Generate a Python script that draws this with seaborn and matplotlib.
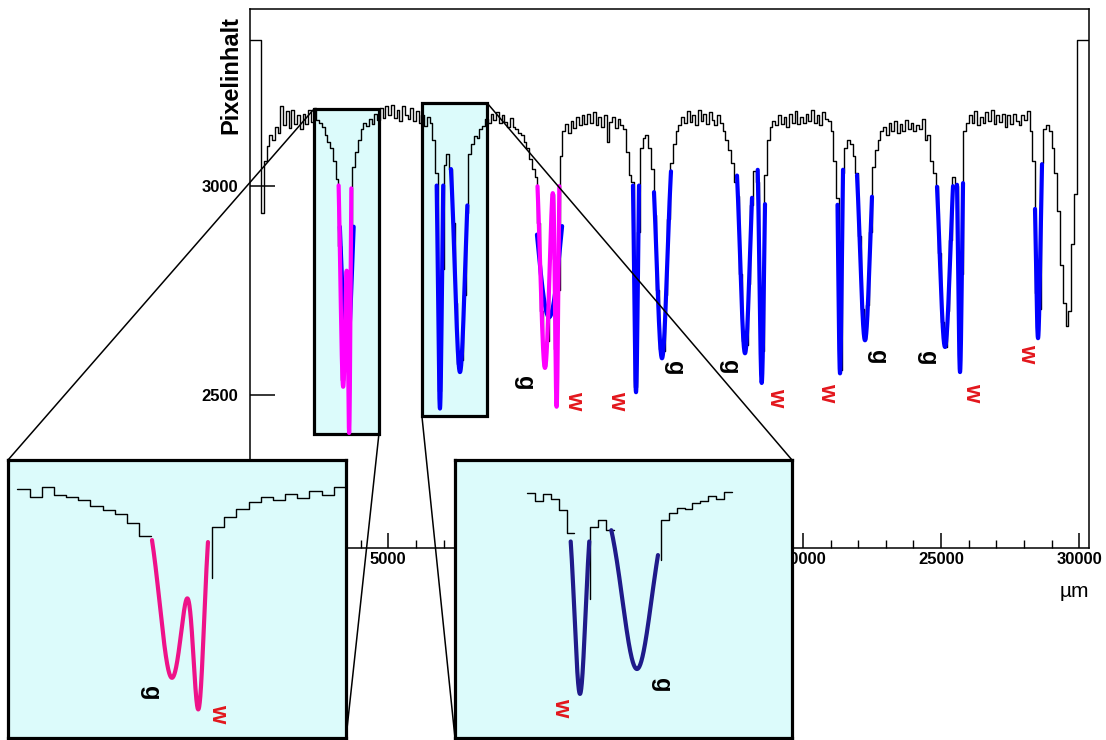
import numpy as np
import matplotlib
matplotlib.use("Agg")
import matplotlib.pyplot as plt
from matplotlib.patches import Rectangle, ConnectionPatch
import seaborn as sns

sns.set_style("white")
plt.rcParams["font.family"] = ["Liberation Sans", "DejaVu Sans"]
for key in ("text.color", "axes.labelcolor", "xtick.color", "ytick.color", "axes.edgecolor"):
    plt.rcParams[key] = "black"

# ---------------------------------------------------------------- data
BIN_UM = 100  # bin width of the scan profile

# pixel content per 100 um bin, first bin starts at 0 um
pixel_content = [
    3348, 3348, 3348, 3348, 2935, 3060, 3095, 3120, 3110, 3140,   # 0
    3125, 3190, 3145, 3178, 3138, 3182, 3148, 3170, 3135, 3172,   # 1000
    3148, 3180, 3152, 3185, 3158, 3150, 3140, 3120, 3105, 3090,   # 2000
    3060, 3015, 2855, 2535, 2690, 2570, 2870, 3045, 3080, 3110,   # 3000
    3135, 3150, 3142, 3160, 3148, 3172, 3158, 3185, 3162, 3190,   # 4000
    3168, 3192, 3162, 3182, 3155, 3190, 3170, 3160, 3185, 3155,   # 5000
    3178, 3150, 3170, 3142, 3165, 3150, 3110, 3030, 2510, 2800,   # 6000
    3050, 3075, 3040, 2910, 2720, 2575, 2585, 2740, 2935, 3075,   # 7000
    3100, 3118, 3115, 3135, 3142, 3160, 3150, 3172, 3158, 3175,   # 8000
    3150, 3170, 3152, 3140, 3162, 3140, 3135, 3125, 3120, 3105,   # 9000
    3090, 3065, 3040, 3020, 2910, 2700, 2570, 2630, 2825, 2980,   # 10000
    2610, 2750, 3070, 3130, 3148, 3125, 3155, 3138, 3165, 3145,   # 11000
    3168, 3148, 3172, 3150, 3175, 3145, 3165, 3140, 3170, 3105,   # 12000
    3152, 3165, 3138, 3160, 3145, 3135, 3080, 3025, 3010, 2520,   # 13000
    2890, 3090, 3115, 3120, 3090, 3040, 2930, 2750, 2610, 2605,   # 14000
    2740, 2920, 3055, 3100, 3130, 3145, 3165, 3150, 3178, 3152,   # 15000
    3170, 3145, 3180, 3155, 3172, 3148, 3175, 3158, 3145, 3170,   # 16000
    3150, 3130, 3110, 3085, 3055, 3010, 2975, 2790, 2630, 2620,   # 17000
    2765, 2955, 3035, 3010, 2685, 2605, 3025, 3110, 3140, 3155,   # 18000
    3145, 3170, 3148, 3165, 3140, 3172, 3150, 3178, 3148, 3165,   # 19000
    3150, 3172, 3155, 3180, 3150, 3170, 3145, 3175, 3160, 3155,   # 20000
    3130, 3060, 2970, 2560, 3030, 3090, 3110, 3100, 3070, 3030,   # 21000
    2880, 2705, 2635, 2715, 2890, 3045, 3085, 3110, 3130, 3140,   # 22000
    3120, 3150, 3130, 3155, 3125, 3148, 3130, 3158, 3135, 3150,   # 23000
    3130, 3145, 3135, 3160, 3110, 3120, 3060, 3030, 3000, 2840,   # 24000
    2675, 2615, 2700, 2870, 3020, 3000, 2630, 2790, 3130, 3150,   # 25000
    3168, 3150, 3178, 3145, 3165, 3150, 3175, 3155, 3180, 3148,   # 26000
    3170, 3152, 3172, 3140, 3168, 3148, 3172, 3155, 3145, 3168,   # 27000
    3158, 3178, 3130, 3060, 2745, 2705, 3055, 3135, 3145, 3130,   # 28000
    3090, 3030, 2940, 2810, 2720, 2665, 2700, 2860, 2980, 3348,   # 29000
    3348, 3348, 3348, 3348,                                       # 30000
]

FIT_BASE = 3170  # common baseline of the Gaussian line fits

# single-line Gaussian fits (blue)
line_centre_um = [6871, 7595, 13963, 14903, 17906, 18510, 21343, 22247, 25141, 25684, 28506]
line_depth = [702, 615, 663, 582, 570, 641, 618, 539, 555, 615, 534]
line_sigma_um = [70, 185, 66, 191, 175, 81, 62, 178, 189, 67, 83]
line_from_um = [6753, 7269, 13854, 14614, 17617, 18366, 21253, 21958, 24852, 25576, 28397]
line_to_um = [6989, 7862, 14072, 15229, 18160, 18630, 21452, 22500, 25431, 25793, 28650]

# two-line fits g + w (magenta)
pair_g_centre = [3370, 10670]
pair_g_depth = [650, 605]
pair_g_sigma = [100, 170]
pair_w_centre = [3590, 11093]
pair_w_depth = [700, 670]
pair_w_sigma = [45, 58]
pair_from_um = [3206, 10400]
pair_to_um = [3666, 11190]

# broad single-Gaussian fits of the same two doublets (blue, underneath)
broad_centre = [3500, 10820]
broad_depth = [585, 484]
broad_sigma = [200, 430]
broad_from_um = [3250, 10380]
broad_to_um = [3750, 11290]

# line labels in the overview
label_text = ["g", "w", "w", "g", "g", "w", "w", "g", "g", "w", "w"]
label_um = [9946, 11755, 13311, 15373, 17363, 19063, 20908, 22717, 24490, 26155, 28145]
label_val = [2529, 2488, 2488, 2565, 2567, 2495, 2507, 2591, 2588, 2507, 2600]

# zoomed regions (um range, value range)
box_um = [(2312, 4663), (6219, 8571)]
box_val = [(2407, 3183), (2450, 3198)]

# profile stretches (bin index ranges) shown outside the fitted parts in the zoom panels
zoom1_bins = [(21, 32), (37, 48)]
zoom2_bins = [(62, 68), (70, 73), (79, 88)]

# ---------------------------------------------------------------- styling
W, H = 1106, 740
CYAN = "#dcfbfb"
RED = "#e3161c"
FONT = 17


def gauss(x, c, a, s):
    return a * np.exp(-0.5 * ((x - c) / s) ** 2)


def draw_profile(axis, i0, i1, lw=1.0, lead=False):
    edges = list(np.arange(i0, i1 + 1) * BIN_UM)
    vals = pixel_content[i0:i1] + [pixel_content[i1 - 1]]
    if lead and i0 > 0:
        edges = [edges[0]] + edges
        vals = [pixel_content[i0 - 1]] + vals
    sns.lineplot(x=edges, y=vals, ax=axis, drawstyle="steps-post", color="black",
                 lw=lw, estimator=None, sort=False, zorder=3)


def draw_single(axis, k, color, lw=3.0):
    x = np.linspace(line_from_um[k], line_to_um[k], 200)
    y = FIT_BASE - gauss(x, line_centre_um[k], line_depth[k], line_sigma_um[k])
    sns.lineplot(x=x, y=y, ax=axis, color=color, lw=lw, estimator=None, sort=False, zorder=4)


def draw_pair(axis, k, color, lw=3.0):
    x = np.linspace(pair_from_um[k], pair_to_um[k], 300)
    y = (FIT_BASE - gauss(x, pair_g_centre[k], pair_g_depth[k], pair_g_sigma[k])
         - gauss(x, pair_w_centre[k], pair_w_depth[k], pair_w_sigma[k]))
    sns.lineplot(x=x, y=y, ax=axis, color=color, lw=lw, estimator=None, sort=False, zorder=5)


def draw_broad(axis, k, color, lw=3.0):
    x = np.linspace(broad_from_um[k], broad_to_um[k], 200)
    y = FIT_BASE - gauss(x, broad_centre[k], broad_depth[k], broad_sigma[k])
    sns.lineplot(x=x, y=y, ax=axis, color=color, lw=lw, estimator=None, sort=False, zorder=4)


def label(axis, x, y, t):
    axis.text(x, y, t, rotation=-90, ha="center", va="center", fontsize=FONT,
              fontweight="bold", color=("black" if t == "g" else RED), zorder=6)


fig = plt.figure(figsize=(W / 100, H / 100), dpi=100)

# ---------------------------------------------------------------- overview
ax = fig.add_axes([250 / W, 1 - 548 / H, 839 / W, 539 / H])
ax.set_facecolor("white")

for (x0, x1), (y0, y1) in zip(box_um, box_val):
    ax.add_patch(Rectangle((x0, y0), x1 - x0, y1 - y0, facecolor=CYAN,
                           edgecolor="black", lw=2.3, zorder=1))

draw_profile(ax, 0, len(pixel_content), lw=1.0)
for k in range(len(broad_centre)):
    draw_broad(ax, k, "#0000ff")
for k in range(len(pair_g_centre)):
    draw_pair(ax, k, "#ff00ff")
for k in range(len(line_centre_um)):
    draw_single(ax, k, "#0000ff")
for t, x, y in zip(label_text, label_um, label_val):
    label(ax, x, y, t)

ax.set_xlim(0, 30350)
ax.set_ylim(2135, 3422)
ax.set_xticks(range(0, 30001, 5000))
ax.set_xticks(range(0, 30001, 1000), minor=True)
ax.set_yticks([2500, 3000])
ax.tick_params(axis="x", which="major", direction="in", length=11, width=1.1,
               labelsize=12, pad=3, bottom=True, top=False, colors="black")
ax.tick_params(axis="x", which="minor", direction="in", length=5.5, width=1.0,
               bottom=True, top=False, colors="black")
ax.tick_params(axis="y", which="major", direction="in", length=18, width=1.1,
               labelsize=12, pad=8.5, left=True, right=False, colors="black")
for lab in ax.get_xticklabels() + ax.get_yticklabels():
    lab.set_fontweight("bold")
for sp in ax.spines.values():
    sp.set_color("black")
    sp.set_linewidth(1.1)

ax.set_xlabel("µm", loc="right", fontsize=15, labelpad=11, color="black")
ax.set_ylabel("Pixelinhalt", loc="top", fontsize=17, fontweight="bold", color="black")
ax.yaxis.set_label_coords(-0.009, 0.987)

# ---------------------------------------------------------------- zoom panels
ins1 = fig.add_axes([8 / W, 2 / H, 338 / W, 278 / H], zorder=5)
ins2 = fig.add_axes([455 / W, 2 / H, 337 / W, 278 / H], zorder=5)

for a in (ins1, ins2):
    a.set_facecolor(CYAN)
    for sp in a.spines.values():
        sp.set_color("black")
        sp.set_linewidth(2.3)

for n, (i0, i1) in enumerate(zoom1_bins):
    draw_profile(ins1, i0, i1, lw=1.0, lead=(n > 0))
draw_pair(ins1, 0, "#ee1289", lw=3.0)
ins1.set_xlim(2023, 4800)
ins1.set_ylim(2310, 3280)
label(ins1, 3190, 2467, "g")
label(ins1, 3757, 2397, "w")

for n, (i0, i1) in enumerate(zoom2_bins):
    draw_profile(ins2, i0, i1, lw=1.0, lead=(n > 0))
draw_single(ins2, 0, "#1f1a8a", lw=3.0)
draw_single(ins2, 1, "#1f1a8a", lw=3.0)
ins2.set_xlim(5283, 9565)
ins2.set_ylim(2314, 3285)
label(ins2, 6643, 2422, "w")
label(ins2, 7913, 2499, "g")

for a in (ins1, ins2):
    a.set_xticks([])
    a.set_yticks([])
    a.set_xlabel("")
    a.set_ylabel("")

# connector lines from the boxes to the zoom panels
links = [
    ((box_um[0][0], box_val[0][1]), ins1, (0, 1)),
    ((box_um[0][1], box_val[0][0]), ins1, (1, 0)),
    ((box_um[1][0], box_val[1][0]), ins2, (0, 0)),
    ((box_um[1][1], box_val[1][1]), ins2, (1, 1)),
]
for xyA, target, xyB in links:
    con = ConnectionPatch(xyA=xyA, coordsA=ax.transData, xyB=xyB,
                          coordsB=target.transAxes, color="black", lw=1.1, zorder=3)
    fig.add_artist(con)

fig.savefig("out.png", dpi=100)
